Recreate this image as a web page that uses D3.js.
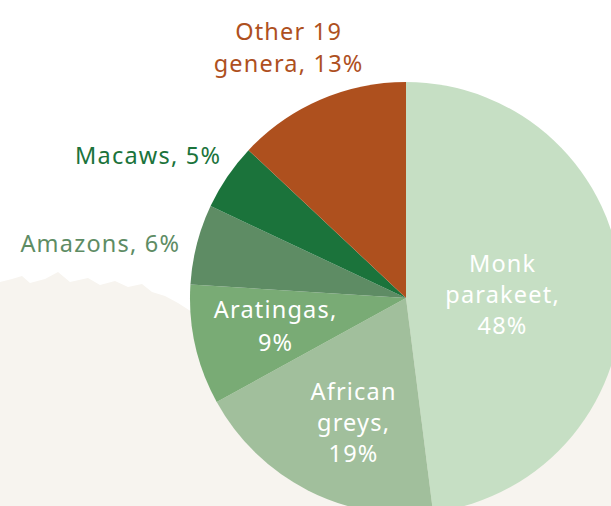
<!DOCTYPE html>
<html><head><meta charset="utf-8">
<script src="https://cdn.jsdelivr.net/npm/d3@7"></script>
<style>body{margin:0;background:#fff}svg{display:block}</style>
</head><body>
<svg id="c" width="611" height="506"></svg>
<script>
const categories = ["Monk parakeet","African greys","Aratingas","Amazons","Macaws","Other 19 genera"];
const values = [48,19,9,6,5,13];
const colors = ["#c6dfc4","#a1bf9c","#79ab75","#5e8c64","#1b733b","#ae501e"];
const labelLines = [["Monk","parakeet,","48%"],["African","greys,","19%"],["Aratingas,","9%"],["Amazons, 6%"],["Macaws, 5%"],["Other 19","genera, 13%"]];

const svg = d3.select("#c");
const cx=406, cy=298, R=216;
const font = "'Noto Sans', sans-serif";

// background beige texture region (behind the pie)
svg.append("path")
  .attr("d","M0,282 L12,279 L22,276 L30,283 L45,279 L58,272 L70,282 L88,278 L100,285 L115,281 L128,287 L142,284 L152,292 L165,296 L178,303 L192,312 L400,300 L611,320 L611,506 L0,506 Z")
  .attr("fill","#f7f4ef");

const pie = d3.pie().sort(null).value(d=>d)(values);
const arc = d3.arc().innerRadius(0).outerRadius(R);
const g = svg.append("g").attr("transform",`translate(${cx},${cy})`);
g.selectAll("path").data(pie).join("path")
  .attr("d",arc).attr("fill",(d,i)=>colors[i]);

const place = {0:[502,272,"middle","#fff"],1:[353,400,"middle","#fff"],2:[275,318,"middle","#fff"],
  3:[179,252,"end","#5e8c64"],4:[220,164,"end","#1b733b"],5:[288,40,"middle","#ae501e"]};
const lh = [31,31,33,0,0,32];
categories.forEach((c,i)=>{
  const [x,y,anchor,col]=place[i];
  const t = svg.append("text").attr("x",x).attr("y",y).attr("text-anchor",anchor)
    .attr("fill",col).attr("font-family",font).attr("font-size",23.5)
    .attr("letter-spacing",1.2);
  labelLines[i].forEach((ln,j)=>{
    t.append("tspan").attr("x",anchor==="end"?x+1.2:x+0.6).attr("y",y+j*lh[i]).text(ln);
  });
});
</script>
</body></html>
